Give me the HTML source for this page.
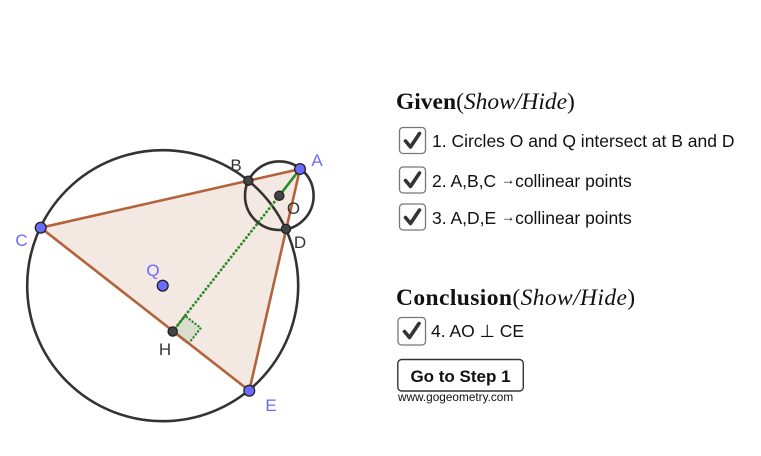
<!DOCTYPE html>
<html><head><meta charset="utf-8"><style>
html,body{margin:0;padding:0;background:#fff;}
svg{display:block;}
.lbl{font-family:"Liberation Sans",Arial,sans-serif;font-size:17px;}
.t{font-family:"Liberation Sans",Arial,sans-serif;font-size:17.5px;fill:#111;}
</style></head><body>
<svg width="761" height="456" viewBox="0 0 761 456" xmlns="http://www.w3.org/2000/svg">
<rect width="761" height="456" fill="#fff"/>
<!-- triangle fill -->
<polygon points="40.7,227.7 300,169 249.3,390.7" fill="#f4e8e2"/>
<!-- circles -->
<circle cx="162.7" cy="285.7" r="135.5" fill="none" stroke="#333" stroke-width="2.6"/>
<circle cx="279.3" cy="195.7" r="34.3" fill="none" stroke="#333" stroke-width="2.6"/>
<!-- right angle marker -->
<polygon points="172.7,331.5 185,315.7 200.8,328 188.5,343.8" fill="#d9ddcc" stroke="#2a8a2a" stroke-width="2.4" stroke-dasharray="0.1 3.6" stroke-linecap="round"/>
<!-- brown lines -->
<g stroke="#b4623a" stroke-width="2.6" stroke-linecap="round" fill="none">
<line x1="40.7" y1="227.7" x2="300" y2="169"/>
<line x1="300" y1="169" x2="249.3" y2="390.7"/>
<line x1="40.7" y1="227.7" x2="249.3" y2="390.7"/>
</g>
<!-- green -->
<line x1="300" y1="169" x2="279.3" y2="195.7" stroke="#2a8a2a" stroke-width="2.6"/>
<line x1="279.3" y1="195.7" x2="172.7" y2="331.5" stroke="#2a8a2a" stroke-width="2.8" stroke-dasharray="0.1 4" stroke-linecap="round"/>
<!-- points -->
<g stroke="#222" stroke-width="1.3">
<circle cx="248.3" cy="180.7" r="4.6" fill="#444"/>
<circle cx="286" cy="229" r="4.6" fill="#444"/>
<circle cx="279.3" cy="195.7" r="4.6" fill="#444"/>
<circle cx="172.7" cy="331.5" r="4.6" fill="#444"/>
<circle cx="300" cy="169" r="5.4" fill="#6b6bff"/>
<circle cx="40.7" cy="227.7" r="5.4" fill="#6b6bff"/>
<circle cx="249.3" cy="390.7" r="5.4" fill="#6b6bff"/>
<circle cx="162.7" cy="285.7" r="5.4" fill="#6b6bff"/>
</g>
<!-- labels -->
<g class="lbl" text-anchor="middle">
<text x="317" y="166" fill="#6a6aff">A</text>
<text x="236" y="171" fill="#333">B</text>
<text x="21.5" y="246" fill="#6a6aff">C</text>
<text x="300" y="248" fill="#333">D</text>
<text x="271" y="411" fill="#6a6aff">E</text>
<text x="153" y="276" fill="#6a6aff">Q</text>
<text x="165" y="355" fill="#333">H</text>
<text x="293.5" y="214" fill="#333">O</text>
</g>

<!-- Right panel -->
<text x="396" y="109" font-family="'Liberation Serif',serif" font-size="23.5" fill="#111"><tspan font-weight="bold">Given</tspan><tspan>(</tspan><tspan font-style="italic">Show/Hide</tspan><tspan>)</tspan></text>

<g>
<rect x="399.5" y="127.5" width="26" height="26" rx="3.5" fill="#fff" stroke="#777" stroke-width="1.3"/>
<path d="M405.5,141 L410.5,147 L419.5,133.5" fill="none" stroke="#333" stroke-width="3.6" stroke-linecap="round" stroke-linejoin="round"/>
<text class="t" x="432" y="147">1. Circles O and Q intersect at B and D</text>
</g>
<g>
<rect x="399.5" y="167" width="26" height="26" rx="3.5" fill="#fff" stroke="#777" stroke-width="1.3"/>
<path d="M405.5,180.5 L410.5,186.5 L419.5,173" fill="none" stroke="#333" stroke-width="3.6" stroke-linecap="round" stroke-linejoin="round"/>
<text class="t" x="432" y="187">2. A,B,C <tspan font-size="14" dy="-2.5">→</tspan><tspan dy="2.5">collinear points</tspan></text>
</g>
<g>
<rect x="399.5" y="204" width="26" height="26" rx="3.5" fill="#fff" stroke="#777" stroke-width="1.3"/>
<path d="M405.5,217.5 L410.5,223.5 L419.5,210" fill="none" stroke="#333" stroke-width="3.6" stroke-linecap="round" stroke-linejoin="round"/>
<text class="t" x="432" y="224">3. A,D,E <tspan font-size="14" dy="-2.5">→</tspan><tspan dy="2.5">collinear points</tspan></text>
</g>

<text x="396" y="305" font-family="'Liberation Serif',serif" font-size="23.5" fill="#111" letter-spacing="0.4"><tspan font-weight="bold">Conclusion</tspan><tspan>(</tspan><tspan font-style="italic">Show/Hide</tspan><tspan>)</tspan></text>

<g>
<rect x="398" y="317.5" width="27.5" height="27.5" rx="3.5" fill="#fff" stroke="#777" stroke-width="1.3"/>
<path d="M404.5,331.5 L409.5,337.5 L419,323.5" fill="none" stroke="#333" stroke-width="3.6" stroke-linecap="round" stroke-linejoin="round"/>
<text class="t" x="431" y="337">4. AO ⊥ CE</text>
</g>

<rect x="397.8" y="359.5" width="125.5" height="31.5" rx="4" fill="#fff" stroke="#333" stroke-width="1.4"/>
<text x="460.5" y="382" text-anchor="middle" font-family="'Liberation Sans',Arial,sans-serif" font-size="17" font-weight="bold" fill="#111">Go to Step 1</text>
<text x="398" y="401" font-family="'Liberation Sans',Arial,sans-serif" font-size="11.8" fill="#111">www.gogeometry.com</text>
</svg>
</body></html>
